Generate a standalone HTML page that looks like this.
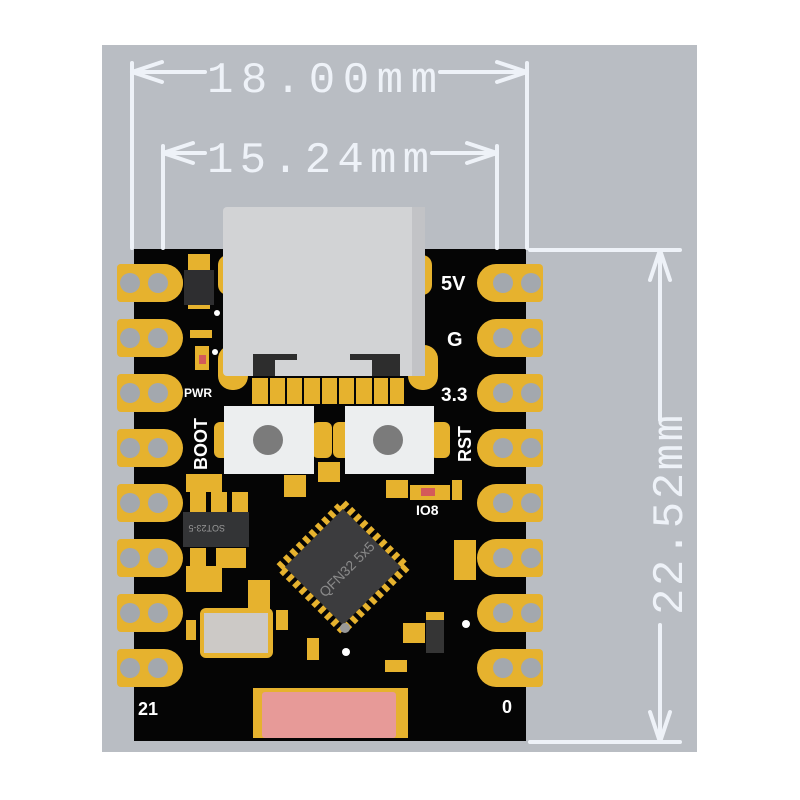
<!DOCTYPE html><html><head><style>body{margin:0;background:#fff}svg{display:block}</style></head><body>
<svg width="800" height="800" viewBox="0 0 800 800" xmlns="http://www.w3.org/2000/svg" font-family="Liberation Sans, sans-serif">
<rect x="102" y="45" width="595" height="707" fill="#b9bdc3"/>
<!-- board -->
<rect x="134" y="249" width="392" height="492" fill="#050505"/>
<!-- dimension lines -->
<g stroke="#eef2f8" stroke-width="4" fill="none" stroke-linecap="round">
<path d="M132 63V248M527 63V248M132 72H205M440 72H527M132 72l30 -10M132 72l30 10M527 72l-30 -10M527 72l-30 10"/>
<path d="M163 146V248M497 146V248M163 153H205M432 153H497M163 153l30 -10M163 153l30 10M497 153l-30 -10M497 153l-30 10"/>
<path d="M530 250H680M530 742H680M660 250V420M660 625V742M660 250l-10 30M660 250l10 30M660 742l-10 -30M660 742l10 -30"/>
</g>
<g fill="#eef2f8" font-family="Liberation Mono, monospace" font-size="44">
<text x="207" y="92" textLength="230">18.00mm</text>
<text x="207" y="172" textLength="222">15.24mm</text>
<text transform="translate(682,615) rotate(-90)" textLength="200">22.52mm</text>
</g>
<!-- pads -->
<g id="L">
<g fill="#e6b22e">
<path d="M117 268a4 4 0 0 1 4-4H164a19 19 0 0 1 0 38H121a4 4 0 0 1-4-4z"/>
</g>
</g>
<g fill="#e6b22e">
<path d="M117 268a4 4 0 0 1 4-4H164a19 19 0 0 1 0 38H121a4 4 0 0 1-4-4z" transform="translate(0,0)"/>
<path d="M117 268a4 4 0 0 1 4-4H164a19 19 0 0 1 0 38H121a4 4 0 0 1-4-4z" transform="translate(0,55)"/>
<path d="M117 268a4 4 0 0 1 4-4H164a19 19 0 0 1 0 38H121a4 4 0 0 1-4-4z" transform="translate(0,110)"/>
<path d="M117 268a4 4 0 0 1 4-4H164a19 19 0 0 1 0 38H121a4 4 0 0 1-4-4z" transform="translate(0,165)"/>
<path d="M117 268a4 4 0 0 1 4-4H164a19 19 0 0 1 0 38H121a4 4 0 0 1-4-4z" transform="translate(0,220)"/>
<path d="M117 268a4 4 0 0 1 4-4H164a19 19 0 0 1 0 38H121a4 4 0 0 1-4-4z" transform="translate(0,275)"/>
<path d="M117 268a4 4 0 0 1 4-4H164a19 19 0 0 1 0 38H121a4 4 0 0 1-4-4z" transform="translate(0,330)"/>
<path d="M117 268a4 4 0 0 1 4-4H164a19 19 0 0 1 0 38H121a4 4 0 0 1-4-4z" transform="translate(0,385)"/>
</g>
<g fill="#e6b22e">
<path d="M543 268a4 4 0 0 0-4-4H496a19 19 0 0 0 0 38H539a4 4 0 0 0 4-4z"/>
<path d="M543 268a4 4 0 0 0-4-4H496a19 19 0 0 0 0 38H539a4 4 0 0 0 4-4z" transform="translate(0,55)"/>
<path d="M543 268a4 4 0 0 0-4-4H496a19 19 0 0 0 0 38H539a4 4 0 0 0 4-4z" transform="translate(0,110)"/>
<path d="M543 268a4 4 0 0 0-4-4H496a19 19 0 0 0 0 38H539a4 4 0 0 0 4-4z" transform="translate(0,165)"/>
<path d="M543 268a4 4 0 0 0-4-4H496a19 19 0 0 0 0 38H539a4 4 0 0 0 4-4z" transform="translate(0,220)"/>
<path d="M543 268a4 4 0 0 0-4-4H496a19 19 0 0 0 0 38H539a4 4 0 0 0 4-4z" transform="translate(0,275)"/>
<path d="M543 268a4 4 0 0 0-4-4H496a19 19 0 0 0 0 38H539a4 4 0 0 0 4-4z" transform="translate(0,330)"/>
<path d="M543 268a4 4 0 0 0-4-4H496a19 19 0 0 0 0 38H539a4 4 0 0 0 4-4z" transform="translate(0,385)"/>
</g>
<g fill="#a3a8ae">
<circle cx="130" cy="283" r="10"/><circle cx="158" cy="283" r="10"/><circle cx="503" cy="283" r="10"/><circle cx="531" cy="283" r="10"/>
<circle cx="130" cy="338" r="10"/><circle cx="158" cy="338" r="10"/><circle cx="503" cy="338" r="10"/><circle cx="531" cy="338" r="10"/>
<circle cx="130" cy="393" r="10"/><circle cx="158" cy="393" r="10"/><circle cx="503" cy="393" r="10"/><circle cx="531" cy="393" r="10"/>
<circle cx="130" cy="448" r="10"/><circle cx="158" cy="448" r="10"/><circle cx="503" cy="448" r="10"/><circle cx="531" cy="448" r="10"/>
<circle cx="130" cy="503" r="10"/><circle cx="158" cy="503" r="10"/><circle cx="503" cy="503" r="10"/><circle cx="531" cy="503" r="10"/>
<circle cx="130" cy="558" r="10"/><circle cx="158" cy="558" r="10"/><circle cx="503" cy="558" r="10"/><circle cx="531" cy="558" r="10"/>
<circle cx="130" cy="613" r="10"/><circle cx="158" cy="613" r="10"/><circle cx="503" cy="613" r="10"/><circle cx="531" cy="613" r="10"/>
<circle cx="130" cy="668" r="10"/><circle cx="158" cy="668" r="10"/><circle cx="503" cy="668" r="10"/><circle cx="531" cy="668" r="10"/>
</g>
<!-- USB-C shell pads -->
<g fill="#e6b22e">
<rect x="218" y="255" width="20" height="40" rx="10"/><rect x="412" y="255" width="20" height="40" rx="10"/>
<rect x="218" y="345" width="30" height="45" rx="14"/><rect x="408" y="345" width="30" height="45" rx="14"/>
<rect x="252" y="378" width="152" height="26"/>
</g>
<g fill="#050505"><rect x="268" y="378" width="2" height="26"/><rect x="285" y="378" width="2" height="26"/><rect x="302" y="378" width="2" height="26"/><rect x="320" y="378" width="2" height="26"/><rect x="337" y="378" width="2" height="26"/><rect x="354" y="378" width="2" height="26"/><rect x="372" y="378" width="2" height="26"/><rect x="388" y="378" width="2" height="26"/></g>
<rect x="223" y="207" width="202" height="169" rx="4" fill="#d2d3d5"/>
<rect x="412" y="207" width="13" height="169" fill="#c2c3c6"/>
<path d="M253 376V354H297V360H275V376Z M400 376V354H350V360H372V376Z" fill="#2d2d2d"/>
<!-- left components -->
<rect x="188" y="254" width="22" height="55" fill="#e6b22e"/><rect x="184" y="270" width="30" height="35" fill="#2e2e30"/>
<rect x="190" y="330" width="22" height="8" fill="#e6b22e"/><rect x="195" y="346" width="14" height="24" fill="#e6b22e"/><rect x="199" y="355" width="7" height="9" fill="#d45a5a"/>
<circle cx="217" cy="313" r="3" fill="#fff"/><circle cx="215" cy="352" r="3" fill="#fff"/>
<!-- buttons -->
<g fill="#e6b22e"><rect x="214" y="422" width="22" height="36" rx="6"/><rect x="312" y="422" width="20" height="36" rx="6"/><rect x="333" y="422" width="20" height="36" rx="6"/><rect x="430" y="422" width="20" height="36" rx="6"/></g>
<rect x="224" y="406" width="90" height="68" fill="#eceeef"/><rect x="345" y="406" width="89" height="68" fill="#eceeef"/>
<circle cx="268" cy="440" r="15" fill="#7b7b7b"/><circle cx="388" cy="440" r="15" fill="#7b7b7b"/>
<!-- small parts -->
<g fill="#e6b22e">
<rect x="186" y="474" width="36" height="18"/><rect x="190" y="492" width="16" height="20"/><rect x="211" y="492" width="16" height="20"/><rect x="232" y="492" width="16" height="20"/>
<rect x="190" y="548" width="16" height="20"/><rect x="216" y="548" width="30" height="20"/><rect x="186" y="566" width="36" height="26"/>
<rect x="284" y="475" width="22" height="22"/><rect x="318" y="462" width="22" height="20"/>
<rect x="386" y="480" width="22" height="18"/><rect x="410" y="485" width="40" height="15"/><rect x="452" y="480" width="10" height="20"/>
<rect x="454" y="540" width="22" height="40"/><rect x="248" y="580" width="22" height="30"/><rect x="186" y="620" width="10" height="20"/><rect x="276" y="610" width="12" height="20"/>
<rect x="307" y="638" width="12" height="22"/><rect x="403" y="623" width="22" height="20"/><rect x="385" y="660" width="22" height="12"/>
</g>
<rect x="183" y="512" width="66" height="35" fill="#333436"/>
<text transform="translate(225,525) rotate(180)" font-size="9" fill="#999">SOT23-5</text>
<rect x="200" y="608" width="73" height="50" rx="6" fill="#e6b22e"/><rect x="204" y="613" width="64" height="40" fill="#ccc9c6"/>
<rect x="426" y="618" width="18" height="35" fill="#353535"/><rect x="426" y="612" width="18" height="8" fill="#e6b22e"/>
<rect x="421" y="488" width="14" height="8" fill="#d45a5a"/>
<circle cx="466" cy="624" r="4" fill="#fff"/>
<!-- QFN -->
<g transform="rotate(45 343 567)">
<rect x="298" y="522" width="90" height="90" fill="none" stroke="#e6b22e" stroke-width="8" stroke-dasharray="5 4"/>
<rect x="302" y="526" width="82" height="82" fill="#3c3c3e"/>
</g>
<text transform="translate(325,598) rotate(-45)" font-size="14" fill="#8a8a8a">QFN32 5x5</text>
<circle cx="345" cy="628" r="5" fill="#999"/><circle cx="346" cy="652" r="4" fill="#fff"/>
<!-- antenna -->
<rect x="253" y="688" width="155" height="50" fill="#e6b22e"/><rect x="262" y="692" width="134" height="46" rx="3" fill="#e79a98"/>
<!-- labels -->
<g fill="#fff" font-weight="bold">
<text x="441" y="290" font-size="20">5V</text>
<text x="447" y="346" font-size="20">G</text>
<text x="441" y="401" font-size="19">3.3</text>
<text transform="translate(471,462) rotate(-90)" font-size="18">RST</text>
<text transform="translate(207,470) rotate(-90)" font-size="18">BOOT</text>
<text x="184" y="397" font-size="12">PWR</text>
<text x="416" y="515" font-size="14">IO8</text>
<text x="138" y="715" font-size="18">21</text>
<text x="502" y="713" font-size="18">0</text>
</g>
</svg></body></html>
